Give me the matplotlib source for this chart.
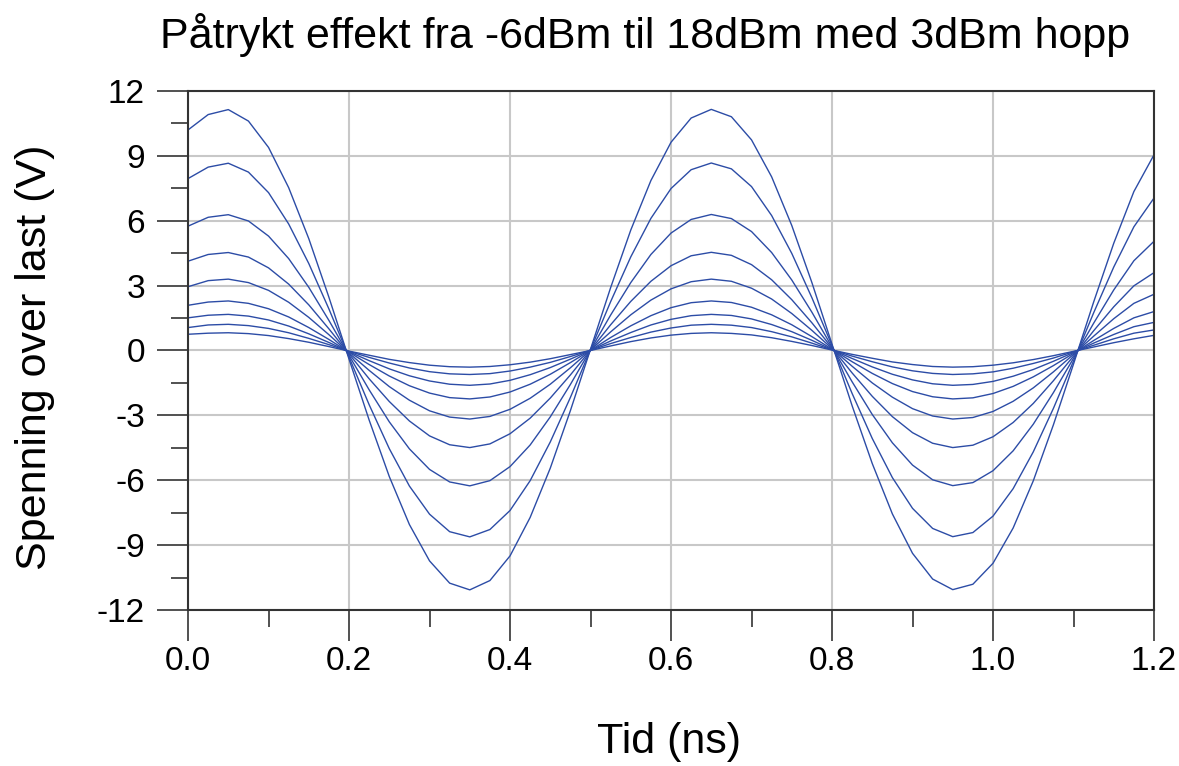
import matplotlib
matplotlib.use('Agg')
import matplotlib.pyplot as plt
from matplotlib.ticker import MultipleLocator
import numpy as np

plt.rcParams['font.family'] = ['Liberation Sans', 'DejaVu Sans']
plt.rcParams['axes.unicode_minus'] = False

# tid i ns (0 til 1.2, steg 0.025)
tid = [0.0, 0.025, 0.05, 0.075, 0.1, 0.125, 0.15, 0.175, 0.2, 0.225,
       0.25, 0.275, 0.3, 0.325, 0.35, 0.375, 0.4, 0.425, 0.45, 0.475,
       0.5, 0.525, 0.55, 0.575, 0.6, 0.625, 0.65, 0.675, 0.7, 0.725,
       0.75, 0.775, 0.8, 0.825, 0.85, 0.875, 0.9, 0.925, 0.95, 0.975,
       1.0, 1.025, 1.05, 1.075, 1.1, 1.125, 1.15, 1.175, 1.2]

# spenning over last (V), en kurve per effektnivaa
v_18dBm = [10.2, 10.91, 11.14, 10.61, 9.39, 7.53, 5.17, 2.46, -0.40, -3.22,
           -5.83, -8.05, -9.73, -10.76, -11.07, -10.64, -9.50, -7.72, -5.44, -2.78,
           0.06, 2.91, 5.57, 7.86, 9.63, 10.75, 11.15, 10.81, 9.74, 8.03,
           5.78, 3.14, 0.29, -2.56, -5.23, -7.56, -9.38, -10.57, -11.06, -10.81,
           -9.84, -8.21, -6.03, -3.44, -0.63, 2.24, 4.96, 7.35, 9.05]
v_15dBm = [7.95, 8.48, 8.66, 8.25, 7.30, 5.85, 4.02, 1.92, -0.31, -2.51,
           -4.54, -6.27, -7.57, -8.38, -8.62, -8.28, -7.40, -6.02, -4.23, -2.17,
           0.04, 2.26, 4.33, 6.11, 7.49, 8.36, 8.67, 8.40, 7.58, 6.24,
           4.49, 2.44, 0.23, -1.99, -4.07, -5.88, -7.30, -8.23, -8.61, -8.42,
           -7.66, -6.39, -4.69, -2.68, -0.49, 1.74, 3.86, 5.72, 7.05]
v_12dBm = [5.75, 6.16, 6.28, 5.99, 5.29, 4.25, 2.92, 1.39, -0.23, -1.82,
           -3.30, -4.55, -5.50, -6.08, -6.26, -6.02, -5.37, -4.37, -3.07, -1.57,
           0.03, 1.64, 3.14, 4.44, 5.43, 6.06, 6.29, 6.10, 5.50, 4.53,
           3.26, 1.77, 0.16, -1.45, -2.96, -4.27, -5.30, -5.98, -6.25, -6.11,
           -5.56, -4.64, -3.41, -1.95, -0.36, 1.26, 2.80, 4.15, 5.05]
v_9dBm = [4.13, 4.44, 4.53, 4.32, 3.82, 3.07, 2.11, 1.00, -0.16, -1.31,
          -2.36, -3.26, -3.95, -4.36, -4.49, -4.32, -3.85, -3.13, -2.20, -1.13,
          0.02, 1.19, 2.27, 3.20, 3.92, 4.38, 4.54, 4.40, 3.97, 3.27,
          2.35, 1.28, 0.12, -1.04, -2.12, -3.06, -3.80, -4.29, -4.49, -4.38,
          -3.99, -3.33, -2.45, -1.40, -0.26, 0.91, 2.02, 2.99, 3.6]
v_6dBm = [2.95, 3.23, 3.30, 3.14, 2.78, 2.23, 1.53, 0.73, -0.12, -0.92,
          -1.67, -2.30, -2.79, -3.08, -3.17, -3.05, -2.72, -2.21, -1.56, -0.80,
          0.02, 0.86, 1.65, 2.33, 2.85, 3.18, 3.30, 3.20, 2.88, 2.38,
          1.71, 0.93, 0.09, -0.73, -1.50, -2.16, -2.69, -3.03, -3.17, -3.10,
          -2.82, -2.35, -1.73, -0.99, -0.18, 0.66, 1.47, 2.18, 2.6]
v_3dBm = [2.09, 2.24, 2.29, 2.18, 1.93, 1.55, 1.06, 0.51, -0.08, -0.65,
          -1.18, -1.63, -1.97, -2.18, -2.24, -2.15, -1.92, -1.56, -1.10, -0.56,
          0.01, 0.60, 1.14, 1.61, 1.98, 2.21, 2.29, 2.22, 2.00, 1.65,
          1.19, 0.64, 0.06, -0.52, -1.06, -1.53, -1.90, -2.14, -2.24, -2.19,
          -1.99, -1.66, -1.22, -0.70, -0.13, 0.46, 1.02, 1.51, 1.8]
v_0dBm = [1.51, 1.63, 1.67, 1.59, 1.41, 1.13, 0.77, 0.37, -0.06, -0.47,
          -0.85, -1.17, -1.41, -1.56, -1.61, -1.55, -1.38, -1.12, -0.79, -0.40,
          0.01, 0.44, 0.83, 1.18, 1.44, 1.61, 1.67, 1.62, 1.46, 1.20,
          0.87, 0.47, 0.04, -0.37, -0.76, -1.10, -1.36, -1.54, -1.61, -1.57,
          -1.43, -1.19, -0.88, -0.50, -0.09, 0.34, 0.74, 1.10, 1.3]
v_m3dBm = [1.06, 1.18, 1.21, 1.15, 1.02, 0.82, 0.56, 0.27, -0.04, -0.32,
           -0.58, -0.81, -0.98, -1.08, -1.11, -1.07, -0.95, -0.77, -0.55, -0.28,
           0.01, 0.32, 0.60, 0.85, 1.04, 1.17, 1.21, 1.17, 1.06, 0.87,
           0.63, 0.34, 0.03, -0.26, -0.52, -0.76, -0.94, -1.06, -1.11, -1.08,
           -0.99, -0.82, -0.60, -0.35, -0.06, 0.24, 0.54, 0.80, 0.95]
v_m6dBm = [0.75, 0.80, 0.82, 0.78, 0.69, 0.55, 0.38, 0.18, -0.03, -0.22,
           -0.41, -0.56, -0.68, -0.75, -0.77, -0.74, -0.66, -0.54, -0.38, -0.19,
           0.00, 0.21, 0.41, 0.58, 0.71, 0.79, 0.82, 0.79, 0.72, 0.59,
           0.42, 0.23, 0.02, -0.18, -0.36, -0.53, -0.65, -0.74, -0.77, -0.75,
           -0.68, -0.57, -0.42, -0.24, -0.04, 0.16, 0.36, 0.54, 0.7]

kurver = [v_m6dBm, v_m3dBm, v_0dBm, v_3dBm, v_6dBm, v_9dBm, v_12dBm, v_15dBm, v_18dBm]

fig = plt.figure(figsize=(11.79, 7.66), dpi=100)
ax = fig.add_axes([0.1595, 0.2037, 0.8193, 0.6775])

for v in kurver:
    ax.plot(tid, v, color='#2c4ca6', linewidth=1.0)

ax.set_xlim(0, 1.2)
ax.set_ylim(-12, 12)
ax.xaxis.set_major_locator(MultipleLocator(0.2))
ax.xaxis.set_minor_locator(MultipleLocator(0.1))
ax.yaxis.set_major_locator(MultipleLocator(3))
ax.yaxis.set_minor_locator(MultipleLocator(1.5))
ax.set_xticklabels([f'{x:.1f}' for x in ax.get_xticks()])
ax.grid(which='major', color='#c8c8c8', linewidth=1.5)
ax.set_axisbelow(True)

ax.tick_params(which='major', direction='out', length=22, width=1.2, labelsize=24, color='#333333')
ax.tick_params(which='minor', direction='out', length=12, width=1.2, color='#333333')
ax.tick_params(axis='x', which='major', pad=4)
ax.tick_params(axis='y', which='major', pad=9)
for s in ax.spines.values():
    s.set_color('#333333')
    s.set_linewidth(1.5)

# titler som figurtekst
fig.text(0.547, 1 - 48 / 766, 'Påtrykt effekt fra -6dBm til 18dBm med 3dBm hopp',
         fontsize=31, ha='center', va='baseline')
fig.text(0.5675, 1 - 753 / 766, 'Tid (ns)', fontsize=31, ha='center', va='baseline')
fig.text(35 / 1179, 1 - 357 / 766, 'Spenning over last (V)', fontsize=31,
         rotation=90, ha='center', va='center')

fig.savefig('out.png', dpi=100)
